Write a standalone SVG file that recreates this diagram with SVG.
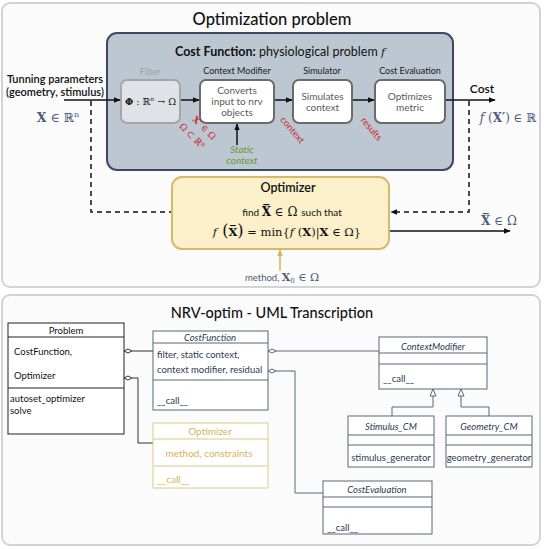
<svg xmlns="http://www.w3.org/2000/svg" width="550" height="549" viewBox="0 0 550 549">
<style>
.sans{font-family:Lato,"Open Sans","Liberation Sans",sans-serif}
.math{font-family:"DejaVu Serif","Liberation Serif",serif}
.panel{fill:#fbfbfb;stroke:#d3d3d3;stroke-width:2}
.blk{fill:#ffffff;stroke:#6b6b6b;stroke-width:2}
.blktxt{font-family:Lato,"Liberation Sans",sans-serif;font-size:10px;fill:#5a5a5a;text-anchor:middle}
.lbl{font-family:Lato,"Liberation Sans",sans-serif;font-size:9px;fill:#1a1a1a;text-anchor:middle}
.red{font-family:"DejaVu Serif","Liberation Serif",serif;font-size:9px;fill:#c8282d;text-anchor:middle}
.redsans{font-family:Lato,"Liberation Sans",sans-serif;font-size:9.5px;fill:#c8282d;text-anchor:middle}
.bluem{font-family:"DejaVu Serif","Liberation Serif",serif;fill:#4b5c7a}
.uml{fill:#ffffff;stroke:#5b6778;stroke-width:1}
.umlt{font-family:Lato,"Liberation Sans",sans-serif;font-size:9.5px;fill:#2b3a55}
.gold{fill:#ffffff;stroke:#dcc98a;stroke-width:1}
.goldt{font-family:Lato,"Liberation Sans",sans-serif;font-size:10px;fill:#d4b45a}
.dash{fill:none;stroke:#111;stroke-width:1.5;stroke-dasharray:5 4}
.arr{fill:none;stroke:#111;stroke-width:1.5}
.conn{fill:none;stroke:#5b6778;stroke-width:1}
.conn2{fill:none;stroke:#333;stroke-width:1}
.dia{fill:#fff;stroke:#5b6778;stroke-width:1}
</style>
<defs>
<marker id="ah" viewBox="0 0 10 10" refX="9" refY="5" markerWidth="7" markerHeight="7" orient="auto" markerUnits="userSpaceOnUse">
<path d="M0,1 L10,5 L0,9 z" fill="#111"/>
</marker>
<marker id="ahg" viewBox="0 0 10 10" refX="9" refY="5" markerWidth="7" markerHeight="7" orient="auto" markerUnits="userSpaceOnUse">
<path d="M0,1 L10,5 L0,9 z" fill="#d4b45a"/>
</marker>
</defs>

<!-- panels -->
<rect class="panel" x="2" y="3" width="538" height="284" rx="8"/>
<rect class="panel" x="2" y="295" width="538" height="250" rx="8"/>
<text class="sans" x="272" y="25" font-size="16.5" text-anchor="middle" fill="#111" style="font-weight:500">Optimization problem</text>
<text class="sans" x="272" y="318" font-size="14.5" text-anchor="middle" fill="#111" style="font-weight:500">NRV-optim - UML Transcription</text>

<!-- Cost function container -->
<g id="costfunction">
<rect x="107" y="33" width="346" height="137" rx="10" fill="#bdc7d2" stroke="#3b4a63" stroke-width="2"/>
<text class="sans" x="280" y="56" font-size="12.5" text-anchor="middle" fill="#111"><tspan font-weight="bold">Cost Function:</tspan> physiological problem <tspan class="math" font-style="italic" font-size="11">f</tspan></text>
</g>

<g id="filter">
<rect x="121" y="80" width="59" height="43" rx="6" fill="#dfe3e8" stroke="#a3a7ab" stroke-width="2"/>
<text class="lbl" x="150" y="75" style="fill:#a0a0a0">Filter</text>
<text class="math" x="150.5" y="105" font-size="9.5" text-anchor="middle" fill="#222"><tspan font-weight="bold">Φ</tspan> : ℝ<tspan font-size="6" dy="-4">n</tspan><tspan dy="4"> → Ω</tspan></text>
</g>

<g id="contextmodifier">
<rect class="blk" x="200" y="80" width="74" height="43" rx="6"/>
<text class="lbl" x="237" y="74">Context Modifier</text>
<text class="blktxt" x="237" y="94">Converts</text>
<text class="blktxt" x="237" y="105">input to nrv</text>
<text class="blktxt" x="237" y="116">objects</text>
</g>

<g id="simulator">
<rect class="blk" x="293" y="80" width="59" height="43" rx="6"/>
<text class="lbl" x="322" y="74">Simulator</text>
<text class="blktxt" x="322.5" y="100">Simulates</text>
<text class="blktxt" x="322.5" y="111">context</text>
</g>

<g id="costevaluation">
<rect class="blk" x="375" y="80" width="70" height="43" rx="6"/>
<text class="lbl" x="410" y="74">Cost Evaluation</text>
<text class="blktxt" x="410" y="100">Optimizes</text>
<text class="blktxt" x="410" y="111">metric</text>
</g>

<g id="optimizer">
<rect x="172" y="177" width="217" height="72" rx="10" fill="#fbf0c9" stroke="#d4b96a" stroke-width="2"/>
<text class="sans" x="288" y="192" font-size="12.5" text-anchor="middle" fill="#111" style="font-weight:600">Optimizer</text>
<text x="292" y="216" text-anchor="middle" fill="#111"><tspan class="sans" font-size="10">find </tspan><tspan class="math" font-size="12" font-weight="bold">X̅</tspan><tspan class="math" font-size="12"> ∈ Ω  </tspan><tspan class="sans" font-size="10">such that</tspan></text>
<text class="math" x="287" y="236" font-size="11.5" text-anchor="middle" fill="#111"><tspan font-style="italic">f</tspan><tspan font-size="16"> (</tspan><tspan font-weight="bold">X̅</tspan><tspan font-size="16">)</tspan> = min{<tspan font-style="italic">f</tspan> (<tspan font-weight="bold">X</tspan>)|<tspan font-weight="bold">X</tspan> ∈ Ω}</text>
</g>

<!-- outside texts -->
<g id="inputs">
<text class="sans" x="55" y="83" font-size="11" text-anchor="middle" fill="#111" style="font-weight:600">Tunning parameters</text>
<text class="sans" x="55" y="96" font-size="11" text-anchor="middle" fill="#111" style="font-weight:600">(geometry, stimulus)</text>
<text class="bluem" x="58" y="122" font-size="12.5" text-anchor="middle"><tspan font-weight="bold">X</tspan> ∈ ℝ<tspan font-size="8" dy="-5">n</tspan></text>
</g>
<g id="outputs">
<text class="sans" x="482" y="93" font-size="12" text-anchor="middle" fill="#111" style="font-weight:600">Cost</text>
<text class="bluem" x="508" y="122" font-size="12" text-anchor="middle"><tspan font-style="italic">f</tspan> (<tspan font-weight="bold">X′</tspan>) ∈ ℝ</text>
<text class="bluem" x="499" y="225" font-size="12" text-anchor="middle"><tspan font-weight="bold">X̅</tspan> ∈ Ω</text>
<text x="282" y="281" text-anchor="middle" fill="#4b5c7a"><tspan class="sans" font-size="9.5">method, </tspan><tspan class="math" font-size="11" font-weight="bold">X</tspan><tspan class="math" font-size="7" dy="2">0</tspan><tspan class="math" font-size="11" dy="-2"> ∈ Ω</tspan></text>
</g>

<!-- edge labels -->
<g id="edgelabels">
<text class="red" transform="translate(202,130) rotate(45)"><tspan font-weight="bold">X′</tspan> ∈ Ω</text>
<text class="red" transform="translate(190,138) rotate(45)">Ω ⊂ ℝ<tspan font-size="6" dy="-3">n</tspan></text>
<text class="redsans" transform="translate(290,132) rotate(50)">context</text>
<text class="redsans" transform="translate(369,131) rotate(50)">results</text>
<text class="sans" x="242" y="153" font-size="10" font-style="italic" text-anchor="middle" fill="#6b9a2e">Static</text>
<text class="sans" x="242" y="164" font-size="10" font-style="italic" text-anchor="middle" fill="#6b9a2e">context</text>
</g>

<!-- connectors -->
<g id="connectors">
<line class="arr" x1="64" y1="100" x2="120" y2="100" marker-end="url(#ah)"/>
<line class="arr" x1="181" y1="100" x2="199" y2="100" marker-end="url(#ah)"/>
<line class="arr" x1="275" y1="100" x2="292" y2="100" marker-end="url(#ah)"/>
<line class="arr" x1="353" y1="100" x2="374" y2="100" marker-end="url(#ah)"/>
<line class="arr" x1="446" y1="100" x2="495" y2="100" marker-end="url(#ah)"/>
<line class="arr" x1="237" y1="145" x2="237" y2="124" marker-end="url(#ah)"/>
<polyline class="dash" points="91,101 91,212 171,212"/>
<polyline class="dash" points="469,101 469,212 391,212" marker-end="url(#ah)"/>
<line class="arr" x1="390" y1="231" x2="510" y2="231" marker-end="url(#ah)"/>
<line x1="280" y1="271" x2="280" y2="250" stroke="#d4b45a" stroke-width="1.5" marker-end="url(#ahg)"/>

<path class="conn2" d="M132,351 H153"/>
<path d="M124,351 L128,349 L132,351 L128,353 Z" fill="#fff" stroke="#333" stroke-width="1"/>
<path class="conn2" d="M132,378 H138 V443 H153"/>
<path d="M124,378 L128,376 L132,378 L128,380 Z" fill="#fff" stroke="#333" stroke-width="1"/>
<path class="conn" d="M276,351 H379"/>
<path class="dia" d="M268,351 L272,349 L276,351 L272,353 Z"/>
<path class="conn" d="M276,371 H295 V493 H323"/>
<path class="dia" d="M268,371 L272,369 L276,371 L272,373 Z"/>
<path class="conn" d="M433,396 V407 H392 V416"/>
<path class="dia" d="M433,389 L436,396 L430,396 Z"/>
<path class="conn" d="M461,396 V407 H489 V416"/>
<path class="dia" d="M461,389 L464,396 L458,396 Z"/>
</g>

<g id="uml-problem">
<rect x="8" y="323" width="116" height="111" fill="#fff" stroke="#222" stroke-width="1"/>
<line x1="8" y1="337" x2="124" y2="337" stroke="#222"/>
<line x1="8" y1="388" x2="124" y2="388" stroke="#222"/>
<text class="sans" x="66" y="334" font-size="9.5" text-anchor="middle" fill="#111">Problem</text>
<text class="sans" x="14" y="355" font-size="9.5" fill="#111">CostFunction,</text>
<text class="sans" x="14" y="379" font-size="9.5" fill="#111">Optimizer</text>
<text class="sans" x="10" y="402" font-size="9.5" fill="#111">autoset_optimizer</text>
<text class="sans" x="10" y="414" font-size="9.5" fill="#111">solve</text>
</g>

<g id="uml-costfunction">
<rect class="uml" x="153" y="331" width="115" height="79"/>
<line class="conn" x1="153" y1="343" x2="268" y2="343"/>
<line class="conn" x1="153" y1="380" x2="268" y2="380"/>
<text class="umlt" x="210" y="341" text-anchor="middle" font-style="italic">CostFunction</text>
<text class="umlt" x="157" y="358">filter, static context,</text>
<text class="umlt" x="157" y="373">context modifier, residual</text>
<text class="umlt" x="157" y="404">__call__</text>
</g>

<g id="uml-optimizer">
<rect class="gold" x="153" y="423" width="115" height="65"/>
<line x1="153" y1="439" x2="268" y2="439" stroke="#dcc98a"/>
<line x1="153" y1="466" x2="268" y2="466" stroke="#dcc98a"/>
<text class="goldt" x="210" y="435" text-anchor="middle">Optimizer</text>
<text class="goldt" x="209" y="457" text-anchor="middle">method, constraints</text>
<text class="goldt" x="157" y="483">__call__</text>
</g>

<g id="uml-contextmodifier">
<rect class="uml" x="379" y="337" width="108" height="52"/>
<line class="conn" x1="379" y1="353" x2="487" y2="353"/>
<line class="conn" x1="379" y1="364" x2="487" y2="364"/>
<text class="umlt" x="433" y="350" text-anchor="middle" font-style="italic">ContextModifier</text>
<text class="umlt" x="383" y="382">__call__</text>
</g>

<g id="uml-stimulus">
<rect class="uml" x="348" y="416" width="86" height="51"/>
<line class="conn" x1="348" y1="435" x2="434" y2="435"/>
<line class="conn" x1="348" y1="445" x2="434" y2="445"/>
<text class="umlt" x="391" y="430" text-anchor="middle" font-style="italic">Stimulus_CM</text>
<text class="umlt" x="391" y="461" text-anchor="middle">stimulus_generator</text>
</g>

<g id="uml-geometry">
<rect class="uml" x="446" y="416" width="86" height="51"/>
<line class="conn" x1="446" y1="435" x2="532" y2="435"/>
<line class="conn" x1="446" y1="445" x2="532" y2="445"/>
<text class="umlt" x="489" y="430" text-anchor="middle" font-style="italic">Geometry_CM</text>
<text class="umlt" x="489" y="461" text-anchor="middle">geometry_generator</text>
</g>

<g id="uml-costevaluation">
<rect class="uml" x="323" y="481" width="109" height="53"/>
<line class="conn" x1="323" y1="497" x2="432" y2="497"/>
<line class="conn" x1="323" y1="507" x2="432" y2="507"/>
<text class="umlt" x="377" y="493" text-anchor="middle" font-style="italic">CostEvaluation</text>
<text class="umlt" x="327" y="531">__call__</text>
</g>
</svg>
